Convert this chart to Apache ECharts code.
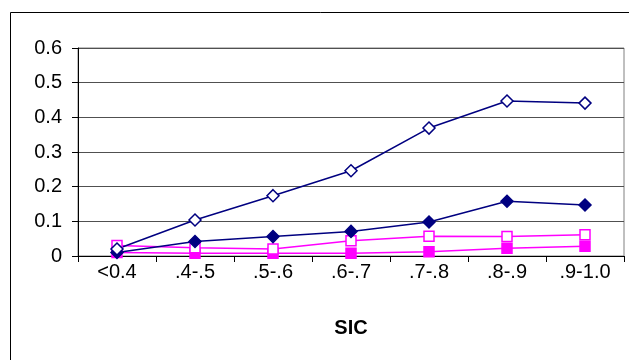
<!DOCTYPE html>
<html>
<head>
<meta charset="utf-8">
<script src="https://cdn.jsdelivr.net/npm/echarts@6/dist/echarts.min.js"></script>
<style>
html,body{margin:0;padding:0;background:#fff;}
#c{width:629px;height:360px;}
</style>
</head>
<body>
<div id="c"></div>
<script>
var categories = ['<0.4', '.4-.5', '.5-.6', '.6-.7', '.7-.8', '.8-.9', '.9-1.0'];
var openDiamond = [0.02, 0.104, 0.174, 0.246, 0.369, 0.447, 0.441];
var filledDiamond = [0.01, 0.042, 0.056, 0.071, 0.098, 0.158, 0.147];
var openSquare = [0.03, 0.024, 0.02, 0.044, 0.057, 0.056, 0.061];
var filledSquare = [0.01, 0.008, 0.008, 0.008, 0.012, 0.022, 0.028];
var yTicks = [0, 0.1, 0.2, 0.3, 0.4, 0.5, 0.6];
var xTitle = 'SIC';

var font = 'Liberation Sans, Arial, sans-serif';
var chart = echarts.init(document.getElementById('c'), null, {renderer: 'canvas'});
var NAVY = '#000080', MAG = '#FF00FF';
function mk(name, data, color, symbol, filled, size) {
  return {
    name: name, type: 'line', data: data, symbol: symbol, symbolSize: size,
    showAllSymbol: true, animation: false,
    lineStyle: {color: color, width: 1.5},
    itemStyle: {color: filled ? color : '#fff', borderColor: color, borderWidth: 1.5}
  };
}
chart.setOption({
  animation: false,
  backgroundColor: '#fff',
  grid: {left: 78, right: 5, top: 48, bottom: 104, show: true, borderColor: '#808080', borderWidth: 1},
  xAxis: {
    type: 'category', data: categories, boundaryGap: true,
    name: xTitle, nameLocation: 'middle', nameGap: 62,
    nameTextStyle: {fontFamily: font, fontSize: 20, fontWeight: 'bold', color: '#000'},
    axisLine: {lineStyle: {color: '#000', width: 1}},
    axisTick: {show: true, alignWithLabel: false, length: 6, lineStyle: {color: '#000'}},
    axisLabel: {fontFamily: font, fontSize: 20, color: '#000', margin: 6, interval: 0}
  },
  yAxis: {
    type: 'value', min: 0, max: 0.6, interval: 0.1,
    axisLine: {show: true, lineStyle: {color: '#000', width: 1}},
    axisTick: {show: true, length: 6, lineStyle: {color: '#000'}},
    axisLabel: {fontFamily: font, fontSize: 20, color: '#000', margin: 16,
      formatter: function (v) { return v === 0 ? '0' : v.toFixed(1); }},
    splitLine: {show: true, lineStyle: {color: '#505050', width: 1}}
  },
  graphic: [{
    type: 'rect', shape: {x: 10.5, y: 12.5, width: 700, height: 400},
    style: {fill: 'none', stroke: '#000', lineWidth: 1}, silent: true, z: 100
  }],
  series: [
    mk('filledSquare', filledSquare, MAG, 'rect', true, 10),
    mk('openSquare', openSquare, MAG, 'rect', false, 10),
    mk('filledDiamond', filledDiamond, NAVY, 'diamond', true, 12),
    mk('openDiamond', openDiamond, NAVY, 'diamond', false, 12)
  ]
});
</script>
</body>
</html>
